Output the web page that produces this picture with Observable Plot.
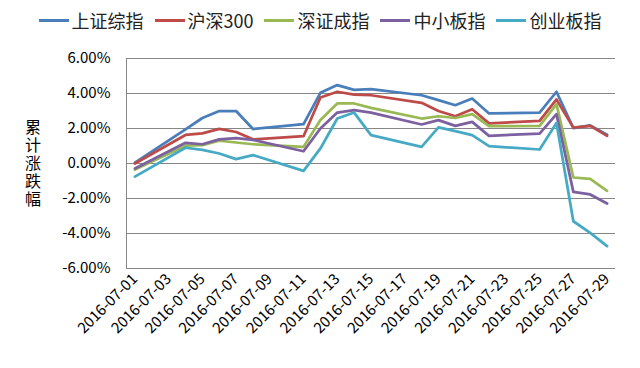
<!DOCTYPE html>
<html><head><meta charset="utf-8">
<script src="https://cdn.jsdelivr.net/npm/d3@7"></script>
<script src="https://cdn.jsdelivr.net/npm/@observablehq/plot@0.6"></script>
<style>
body{margin:0;background:#fff;font-family:"Noto Sans CJK SC","Liberation Sans",sans-serif;position:relative;}
#legend{height:40px;display:flex;align-items:center;justify-content:center;gap:11px;font-size:18px;color:#222;}
#legend .item{display:flex;align-items:center;}
#legend .sw{width:30px;height:3px;margin-right:3px;}
#ytitle{position:absolute;left:25px;top:119px;writing-mode:vertical-rl;text-orientation:upright;font-size:16px;letter-spacing:2px;line-height:16px;color:#000;}
</style></head><body>
<div id="legend"></div>
<div id="chart"></div>
<div id="ytitle"></div>
<script>
const dates = ["2016-07-01","2016-07-04","2016-07-05","2016-07-06","2016-07-07","2016-07-08",
  "2016-07-11","2016-07-12","2016-07-13","2016-07-14","2016-07-15",
  "2016-07-18","2016-07-19","2016-07-20","2016-07-21","2016-07-22",
  "2016-07-25","2016-07-26","2016-07-27","2016-07-28","2016-07-29"];
const seriesNames = ["上证综指","沪深300","深证成指","中小板指","创业板指"];
const shComposite = [0.05,1.95,2.6,3.0,3.0,1.97,2.25,4.04,4.48,4.21,4.25,3.9,3.62,3.33,3.71,2.86,2.91,4.1,2.02,2.18,1.65];
const hs300       = [0.0,1.63,1.72,1.98,1.8,1.38,1.56,3.77,4.1,3.94,3.9,3.47,3.0,2.7,3.1,2.29,2.44,3.66,2.05,2.15,1.58];
const szComponent = [-0.35,1.02,1.05,1.3,1.2,1.1,0.95,2.48,3.43,3.43,3.18,2.57,2.7,2.6,2.82,2.13,2.15,3.39,-0.8,-0.88,-1.56];
const smeIndex    = [-0.28,1.18,1.1,1.38,1.45,1.35,0.7,2.0,2.91,3.05,2.91,2.23,2.48,2.15,2.38,1.58,1.71,2.82,-1.62,-1.77,-2.29];
const chinext     = [-0.75,0.9,0.78,0.57,0.25,0.48,-0.42,0.86,2.57,2.91,1.62,0.95,2.06,1.85,1.62,0.99,0.8,2.32,-3.3,-3.96,-4.72];
const colors = ["#4A7EBB","#BE4B48","#98B954","#7D60A0","#46AAC5"];
const yTicks = [-6,-4,-2,0,2,4,6];
const xTicks = ["2016-07-01","2016-07-03","2016-07-05","2016-07-07","2016-07-09","2016-07-11","2016-07-13",
  "2016-07-15","2016-07-17","2016-07-19","2016-07-21","2016-07-23","2016-07-25","2016-07-27","2016-07-29"];
const yTitle = "累计涨跌幅";

const allSeries = [shComposite, hs300, szComponent, smeIndex, chinext];
const data = [];
allSeries.forEach((vals, i) => vals.forEach((v, j) => data.push({series: seriesNames[i], date: new Date(dates[j]), value: v})));

const legend = document.getElementById("legend");
seriesNames.forEach((n, i) => {
  const it = document.createElement("div"); it.className = "item";
  const sw = document.createElement("div"); sw.className = "sw"; sw.style.background = colors[i];
  const tx = document.createElement("span"); tx.textContent = n;
  it.appendChild(sw); it.appendChild(tx); legend.appendChild(it);
});
document.getElementById("ytitle").textContent = yTitle;

const x0 = new Date("2016-06-30T12:00:00Z"), x1 = new Date("2016-07-29T12:00:00Z");
const chart = Plot.plot({
  width: 640, height: 328,
  marginTop: 18, marginBottom: 100, marginLeft: 126, marginRight: 25,
  style: {fontFamily: '"Noto Sans CJK SC","Liberation Sans",sans-serif', color: "#000", background: "#fff"},
  x: {type: "utc", domain: [x0, x1]},
  y: {domain: [-6, 6]},
  color: {domain: seriesNames, range: colors},
  marks: [
    Plot.gridY(yTicks, {stroke: "#868686", strokeOpacity: 1}),
    Plot.frame({anchor: "left", stroke: "#868686"}),
    Plot.axisY(yTicks, {tickSize: 0, tickPadding: 16, tickFormat: d => d.toFixed(2) + "%", fontSize: 15, label: null}),
    Plot.axisX(xTicks.map(d => new Date(d)), {tickSize: 0, tickPadding: 8, tickRotate: -45, tickFormat: d3.utcFormat("%Y-%m-%d"), fontSize: 15, label: null}),
    Plot.lineY(data, {x: "date", y: "value", stroke: "series", z: "series", strokeWidth: 2.75})
  ]
});
document.getElementById("chart").appendChild(chart);
</script>
</body></html>
